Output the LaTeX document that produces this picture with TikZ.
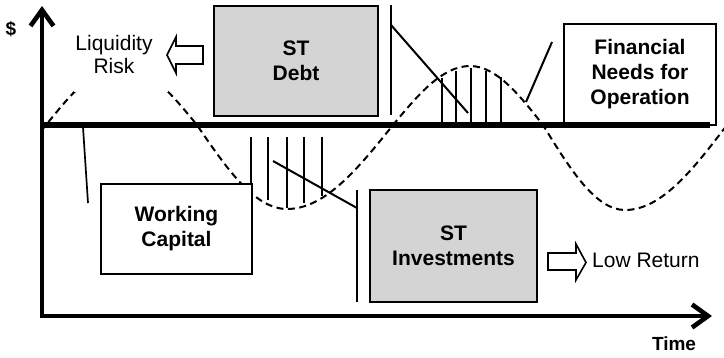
\documentclass[tikz,border=0pt]{standalone}
\usepackage{fontspec}
\setmainfont{Liberation Sans}
\usetikzlibrary{arrows.meta}
\definecolor{boxgray}{gray}{0.83}
\begin{document}
\begin{tikzpicture}[x=1pt,y=-1pt,
  axisline/.style={line width=4.6pt, line join=miter},
  axbarb/.tip={Straight Barb[length=16pt,width=23pt]},
  midline/.style={line width=5.2pt},
  thinline/.style={line width=1.7pt},
  hatchline/.style={line width=2pt},
  diagline/.style={line width=2pt},
  wave/.style={line width=2pt, dash pattern=on 7pt off 4.5pt},
  labelbox/.style={draw=black, line width=1.6pt, inner sep=0pt, outer sep=0pt,
    align=center, font=\bfseries\fontsize{21}{25}\selectfont},
  plaintext/.style={inner sep=0pt, font=\fontsize{21}{23}\selectfont},
  hollowarrow/.style={draw=black, fill=white, line width=1.6pt}
]
\useasboundingbox (0,0) rectangle (724,357);

% cash-flow wave (dashed)
\draw[wave] (41,131) -- (46,125) sin (121,66) cos (197,125) sin (287,209)
  cos (393,125) sin (470,66) cos (543,125) sin (625,210) cos (727,125);
% clear space behind the "Liquidity Risk" label
\fill[white] (74,20) rectangle (168,92);

% hatching above the axis line
\foreach \xx/\yy in {442/78, 456/71, 471/68, 486/71, 501/77}
  \draw[hatchline] (\xx,125) -- (\xx,\yy);
% hatching below the axis line
\foreach \xx/\yy in {251/185, 268/200, 287/208, 304/203, 322/196}
  \draw[hatchline] (\xx,137) -- (\xx,\yy);

% boxes
\node[labelbox, fill=boxgray, minimum width=164pt, minimum height=110pt]
  (debt) at (296,61) {ST\\Debt};
\node[labelbox, fill=white, minimum width=151pt, minimum height=90pt]
  (wc) at (176.5,229) {Working\\Capital};
\node[labelbox, fill=boxgray, minimum width=167pt, minimum height=112pt]
  (inv) at (453.5,246) {ST\\Investments};
\node[labelbox, fill=white, minimum width=152pt, minimum height=101pt]
  (fno) at (640,74.5) {Financial\\Needs for\\Operation};

% plain labels
\node[plaintext, align=center] (liq) at (114,54) {Liquidity\\Risk};
\node[plaintext, anchor=base west] (low) at (592,267) {Low Return};
\node[inner sep=0pt, font=\bfseries\fontsize{19}{22}\selectfont] (dollar) at (11,29) {\$};
\node[inner sep=0pt, anchor=base, font=\bfseries\fontsize{19}{22}\selectfont] (time) at (674,350) {Time};

% hollow block arrows
\draw[hollowarrow] (203,46) -- (176,46) -- (176,37) -- (167,55) -- (176,73)
  -- (176,64) -- (203,64) -- cycle;
\draw[hollowarrow] (548,253) -- (576,253) -- (576,244) -- (586,262.5)
  -- (576,280) -- (576,270) -- (548,270) -- cycle;

% bracket lines
\coordinate (debtTop) at (391,5);
\coordinate (debtBot) at (391,115);
\coordinate (debtDiagA) at (391,25);
\coordinate (debtDiagB) at (468,113);
\draw[thinline] (debtTop) -- (debtBot);
\draw[diagline] (debtDiagA) -- (debtDiagB);

\coordinate (invTop) at (357,190);
\coordinate (invBot) at (357,302);
\coordinate (invDiagA) at (273,161);
\coordinate (invDiagB) at (357,208);
\draw[thinline] (invTop) -- (invBot);
\draw[diagline] (invDiagA) -- (invDiagB);

% pointers
\coordinate (wcPtA) at (83,127);
\coordinate (wcPtB) at (88,203);
\draw[thinline] (wcPtA) -- (wcPtB);
\coordinate (fnoPtA) at (552,42);
\coordinate (fnoPtB) at (526,102);
\draw[diagline] (fnoPtA) -- (fnoPtB);

% zero line
\coordinate (zeroL) at (42,125);
\coordinate (zeroR) at (710,125);
\draw[midline] (zeroL) -- (zeroR);

% axes
\coordinate (yTop) at (42,6);
\coordinate (origin) at (42,316);
\coordinate (xEnd) at (712,316);
\draw[axisline, {axbarb}-{axbarb}] (yTop) -- (origin) -- (xEnd);
\end{tikzpicture}
\end{document}
